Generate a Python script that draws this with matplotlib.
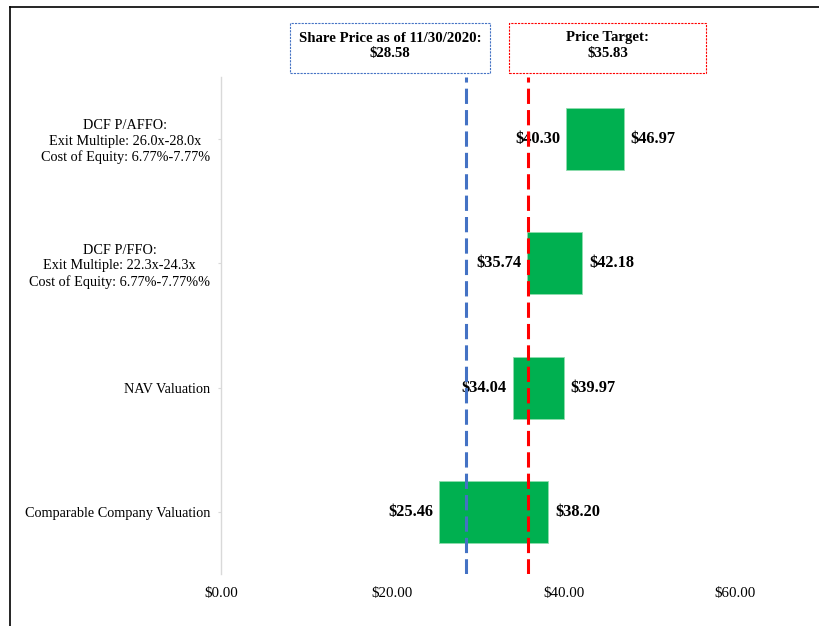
import numpy as np
import matplotlib
matplotlib.use('Agg')
import matplotlib.pyplot as plt
from matplotlib.patches import Rectangle
from matplotlib.lines import Line2D
from matplotlib.ticker import FuncFormatter

# football-field data, top row first
categories = [
    'DCF P/AFFO:\nExit Multiple: 26.0x-28.0x\nCost of Equity: 6.77%-7.77%',
    'DCF P/FFO:\nExit Multiple: 22.3x-24.3x\nCost of Equity: 6.77%-7.77%%',
    'NAV Valuation',
    'Comparable Company Valuation',
]
low = [40.30, 35.74, 34.04, 25.46]
high = [46.97, 42.18, 39.97, 38.20]
share_price = 28.58
share_date = '11/30/2020'
price_target = 35.83
x_ticks = [0, 20, 40, 60]

_GREEN = '#00B050'
_BLUE = '#4472C4'
_RED = '#FF0000'
_AXIS = '#d9d9d9'

plt.rcParams['font.family'] = ['Liberation Serif', 'DejaVu Serif']

W, H = 820, 626
fig = plt.figure(figsize=(W / 100, H / 100), dpi=100, facecolor='white')
ax = fig.add_axes([221 / W, 1 - 574 / H, (W - 221) / W, (574 - 77) / H])

ypos = np.arange(len(categories))[::-1]
low_a = np.array(low)
high_a = np.array(high)
ax.barh(ypos, high_a - low_a, left=low_a, height=0.5, color=_GREEN,
        edgecolor='#8fdcae', linewidth=0.6, zorder=2)

for y, lo, hi in zip(ypos, low, high):
    ax.annotate(f'${lo:.2f}', (lo, y), xytext=(-4.5, 0), textcoords='offset points',
                ha='right', va='center', fontsize=11.8, fontweight='bold', zorder=3)
    ax.annotate(f'${hi:.2f}', (hi, y), xytext=(5, 0), textcoords='offset points',
                ha='left', va='center', fontsize=11.8, fontweight='bold', zorder=3)

ax.axvline(share_price, color=_BLUE, lw=2.2, dashes=(5, 2), zorder=5)
ax.axvline(price_target, color=_RED, lw=2.2, dashes=(5, 2), zorder=5)

ax.set_xlim(0, 69.9)
ax.set_ylim(-0.5, len(categories) - 0.5)
ax.set_xticks(x_ticks)
ax.xaxis.set_major_formatter(FuncFormatter(lambda v, _: f'${v:.2f}'))
ax.set_yticks(ypos)
ax.set_yticklabels(categories, multialignment='center', fontsize=10.3,
                   linespacing=1.25)
ax.tick_params(axis='x', length=0, pad=9, labelsize=10.8)
ax.tick_params(axis='y', length=2, color=_AXIS, pad=6)
for side in ['top', 'right', 'bottom']:
    ax.spines[side].set_visible(False)
ax.spines['left'].set_color(_AXIS)
ax.spines['left'].set_linewidth(1.0)

# header boxes for share price and price target
boxes = [
    (290, 490, _BLUE, f'Share Price as of {share_date}:\n${share_price:.2f}'),
    (509, 706, _RED, f'Price Target:\n${price_target:.2f}'),
]
for x0, x1, col, txt in boxes:
    fig.patches.append(Rectangle((x0 / W, 1 - 73 / H), (x1 - x0) / W, 50 / H,
                                 transform=fig.transFigure, fill=False,
                                 edgecolor=col, linewidth=0.8,
                                 linestyle=(0, (2, 1))))
    fig.text((x0 + x1) / 2 / W, 1 - 46 / H, txt, ha='center', va='center',
             fontsize=10.7, fontweight='bold', linespacing=1.3)

# cropped outer frame (left and top edges only)
fig.lines.append(Line2D([10 / W, 10 / W], [0, 1 - 7 / H], transform=fig.transFigure,
                        color='black', lw=1.2))
fig.lines.append(Line2D([10 / W, 1], [1 - 7 / H, 1 - 7 / H], transform=fig.transFigure,
                        color='black', lw=1.2))

fig.savefig('out.png', dpi=100, facecolor='white')
